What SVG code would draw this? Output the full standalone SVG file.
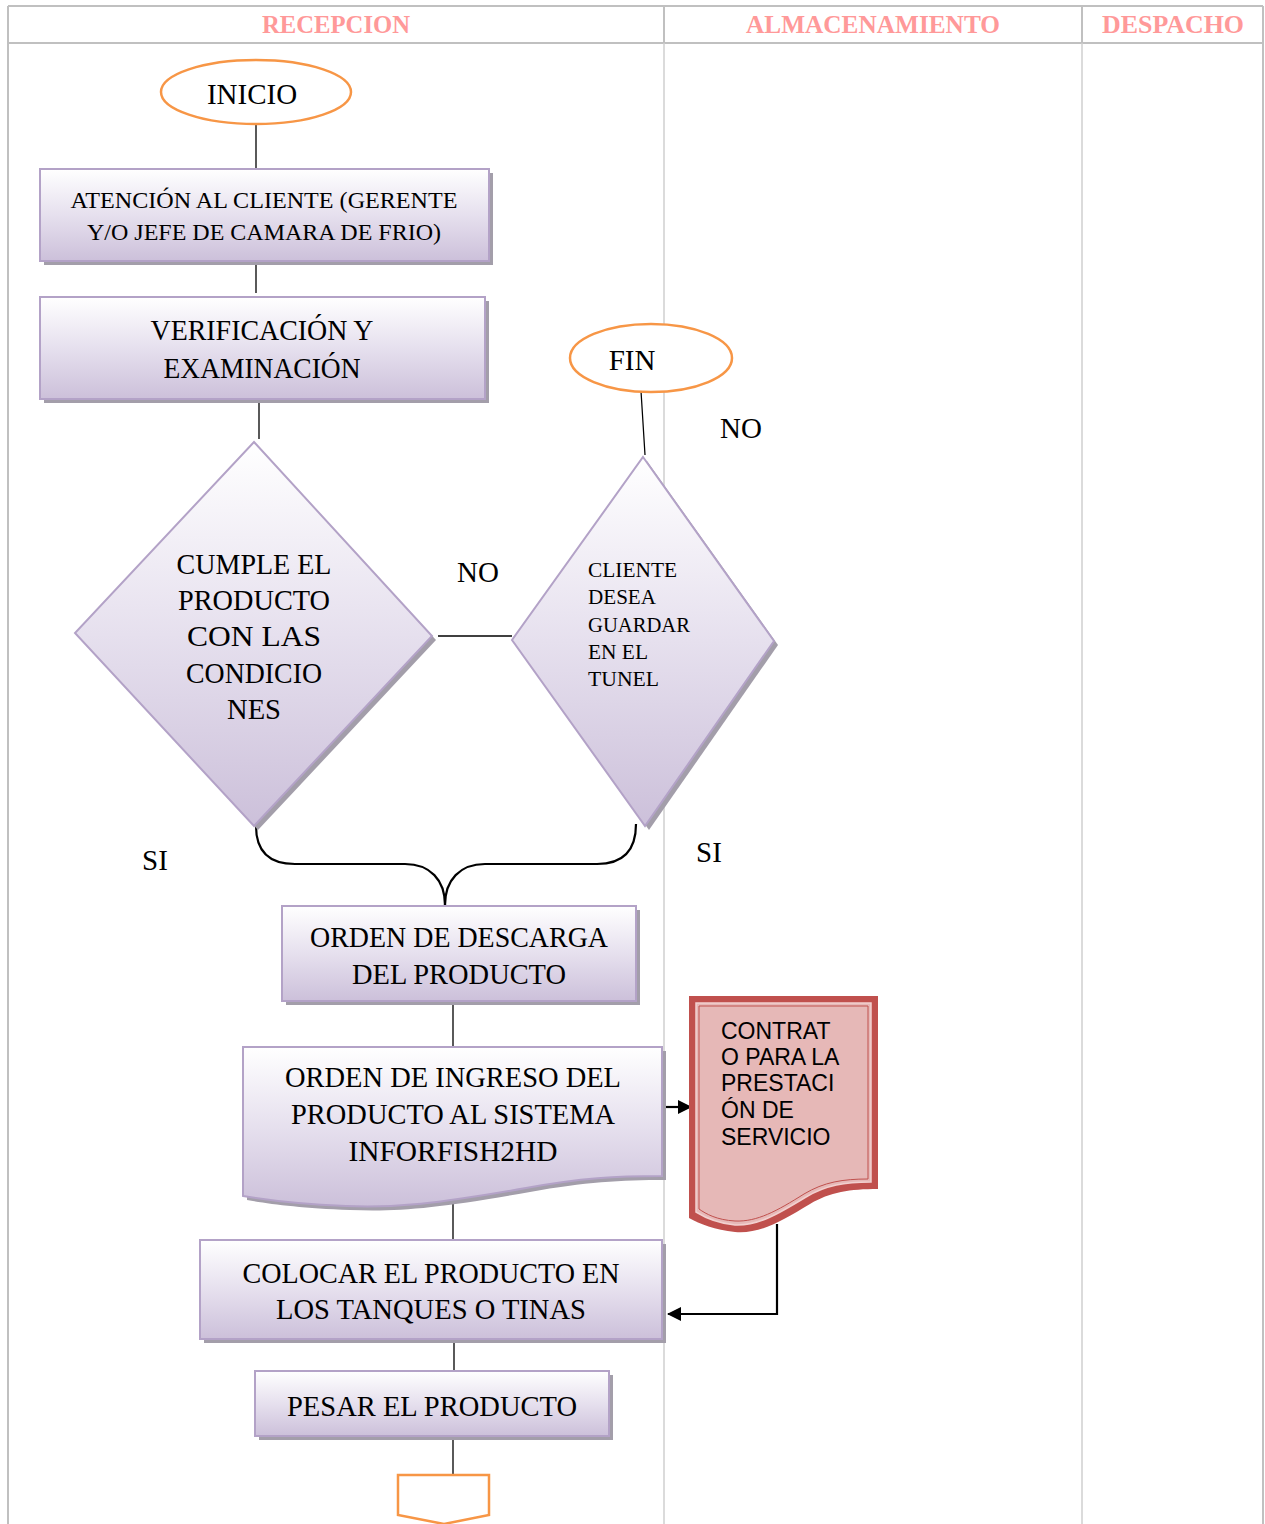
<svg xmlns="http://www.w3.org/2000/svg" width="1265" height="1524" viewBox="0 0 1265 1524">
  <defs>
    <linearGradient id="lav" x1="0" y1="0" x2="0" y2="1">
      <stop offset="0" stop-color="#ffffff"/>
      <stop offset="0.5" stop-color="#e6e0ee"/>
      <stop offset="1" stop-color="#ccc0da"/>
    </linearGradient>
    <marker id="arrow" markerWidth="14" markerHeight="14" refX="13" refY="7" orient="auto" markerUnits="userSpaceOnUse">
      <path d="M0,0 L14,7 L0,14 Z" fill="#000"/>
    </marker>
    <style>
      .grid { stroke: #c0c0c0; stroke-width: 2; fill: none; }
      .gridb { stroke: #cfcfcf; stroke-width: 1.5; fill: none; }
      .hdr { font-family: "Liberation Serif", serif; font-weight: bold; font-size: 25px; fill: #ff9999; text-anchor: middle; }
      .term { fill: #ffffff; stroke: #f79646; stroke-width: 2.5; }
      .proc { fill: url(#lav); stroke: #b3a2c7; stroke-width: 2; }
      .shadow { fill: #a39eaa; }
      .t { font-family: "Liberation Serif", serif; fill: #000; text-anchor: middle; }
      .lbl { font-family: "Liberation Serif", serif; font-size: 29px; fill: #000; }
      .sans { font-family: "Liberation Sans", Arial, sans-serif; font-size: 23px; fill: #000; }
      .conn { stroke: #000; stroke-width: 1.3; fill: none; }
      .conn2 { stroke: #000; stroke-width: 2.2; fill: none; }
    </style>
  </defs>

  <rect width="1265" height="1524" fill="#ffffff"/>

  <!-- swimlane table -->
  <g id="lanes">
    <line class="grid" x1="8" y1="6" x2="1263" y2="6"/>
    <line class="grid" x1="8" y1="43" x2="1263" y2="43"/>
    <line class="grid" x1="8" y1="6" x2="8" y2="1524"/>
    <line class="grid" x1="1263" y1="6" x2="1263" y2="1524"/>
    <line class="grid" x1="664" y1="6" x2="664" y2="43"/>
    <line class="grid" x1="1082" y1="6" x2="1082" y2="43"/>
    <line class="gridb" x1="664" y1="43" x2="664" y2="1524"/>
    <line class="gridb" x1="1082" y1="43" x2="1082" y2="1524"/>
    <text class="hdr" x="336" y="33" textLength="148" lengthAdjust="spacingAndGlyphs">RECEPCION</text>
    <text class="hdr" x="873" y="33" textLength="254" lengthAdjust="spacingAndGlyphs">ALMACENAMIENTO</text>
    <text class="hdr" x="1173" y="33" textLength="142" lengthAdjust="spacingAndGlyphs">DESPACHO</text>
  </g>

  <!-- connectors -->
  <g id="connectors">
    <line class="conn" x1="256" y1="124" x2="256" y2="168"/>
    <line class="conn" x1="256" y1="261" x2="256" y2="293"/>
    <line class="conn" x1="259" y1="399" x2="259" y2="439"/>
    <line class="conn" x1="438" y1="636" x2="512" y2="636"/>
    <line class="conn" x1="641" y1="391" x2="645" y2="455"/>
    <path class="conn2" d="M256,826 C256,850 268,864 295,864 L405,864 C430,864 445,880 445,905"/>
    <path class="conn2" d="M636,824 C636,850 624,864 597,864 L485,864 C460,864 445,880 445,905"/>
    <line class="conn" x1="453" y1="1001" x2="453" y2="1047"/>
    <line class="conn2" x1="660" y1="1107" x2="691" y2="1107" marker-end="url(#arrow)"/>
    <line class="conn" x1="453" y1="1198" x2="453" y2="1240"/>
    <path class="conn2" d="M777,1224 L777,1314 L668,1314" marker-end="url(#arrow)"/>
    <line class="conn" x1="454" y1="1339" x2="454" y2="1371"/>
    <line class="conn" x1="453" y1="1436" x2="453" y2="1475"/>
  </g>

  <g id="inicio">
    <ellipse class="term" cx="256" cy="92" rx="95" ry="32"/>
    <text class="t" x="252" y="104" font-size="29">INICIO</text>
  </g>

  <g id="atencion">
    <rect class="shadow" x="44" y="173" width="449" height="92"/>
    <rect class="proc" x="40" y="169" width="449" height="92"/>
    <text class="t" x="264" y="208" font-size="24" textLength="387" lengthAdjust="spacingAndGlyphs">ATENCIÓN AL CLIENTE (GERENTE</text>
    <text class="t" x="264" y="240" font-size="24" textLength="354" lengthAdjust="spacingAndGlyphs">Y/O JEFE DE CAMARA DE FRIO)</text>
  </g>

  <g id="verificacion">
    <rect class="shadow" x="44" y="301" width="445" height="102"/>
    <rect class="proc" x="40" y="297" width="445" height="102"/>
    <text class="t" x="262" y="340" font-size="29" textLength="223" lengthAdjust="spacingAndGlyphs">VERIFICACIÓN Y</text>
    <text class="t" x="262" y="378" font-size="29" textLength="197" lengthAdjust="spacingAndGlyphs">EXAMINACIÓN</text>
  </g>

  <g id="cumple">
    <polygon class="shadow" points="258,446 436,640 258,830 79,637"/>
    <polygon class="proc" points="254,442 432,636 254,826 75,633"/>
    <text class="t" x="254" y="574" font-size="29" textLength="155" lengthAdjust="spacingAndGlyphs">CUMPLE EL</text>
    <text class="t" x="254" y="610" font-size="29" textLength="152" lengthAdjust="spacingAndGlyphs">PRODUCTO</text>
    <text class="t" x="254" y="646" font-size="29" textLength="134" lengthAdjust="spacingAndGlyphs">CON LAS</text>
    <text class="t" x="254" y="683" font-size="29" textLength="136" lengthAdjust="spacingAndGlyphs">CONDICIO</text>
    <text class="t" x="254" y="719" font-size="29" textLength="54" lengthAdjust="spacingAndGlyphs">NES</text>
  </g>

  <text class="lbl" x="457" y="582">NO</text>

  <g id="fin">
    <ellipse class="term" cx="651" cy="358" rx="81" ry="34"/>
    <text class="t" x="632" y="370" font-size="29">FIN</text>
  </g>

  <text class="lbl" x="720" y="438">NO</text>

  <g id="cliente">
    <polygon class="shadow" points="647,461 778,645 649,830 516,644"/>
    <polygon class="proc" points="643,457 774,641 645,826 512,640"/>
    <g font-family="Liberation Serif, serif" font-size="22" fill="#000">
      <text x="588" y="577" textLength="89" lengthAdjust="spacingAndGlyphs">CLIENTE</text>
      <text x="588" y="604" textLength="68" lengthAdjust="spacingAndGlyphs">DESEA</text>
      <text x="588" y="632" textLength="102" lengthAdjust="spacingAndGlyphs">GUARDAR</text>
      <text x="588" y="659" textLength="60" lengthAdjust="spacingAndGlyphs">EN EL</text>
      <text x="588" y="686" textLength="71" lengthAdjust="spacingAndGlyphs">TUNEL</text>
    </g>
  </g>

  <text class="lbl" x="142" y="870">SI</text>
  <text class="lbl" x="696" y="862">SI</text>

  <g id="descarga">
    <rect class="shadow" x="286" y="910" width="354" height="95"/>
    <rect class="proc" x="282" y="906" width="354" height="95"/>
    <text class="t" x="459" y="947" font-size="29" textLength="298" lengthAdjust="spacingAndGlyphs">ORDEN DE DESCARGA</text>
    <text class="t" x="459" y="984" font-size="29" textLength="214" lengthAdjust="spacingAndGlyphs">DEL PRODUCTO</text>
  </g>

  <g id="ingreso">
    <path class="shadow" d="M247,1051 L666,1051 L666,1180 C620,1180 585,1182 530,1192 C440,1208 400,1212 350,1210 C300,1208 270,1204 247,1200 Z"/>
    <path class="proc" d="M243,1047 L662,1047 L662,1176 C616,1176 581,1178 526,1188 C436,1204 396,1208 346,1206 C296,1204 266,1200 243,1196 Z"/>
    <text class="t" x="453" y="1087" font-size="29" textLength="336" lengthAdjust="spacingAndGlyphs">ORDEN DE INGRESO DEL</text>
    <text class="t" x="453" y="1124" font-size="29" textLength="324" lengthAdjust="spacingAndGlyphs">PRODUCTO AL SISTEMA</text>
    <text class="t" x="453" y="1161" font-size="29" textLength="209" lengthAdjust="spacingAndGlyphs">INFORFISH2HD</text>
  </g>

  <g id="contrato">
    <path d="M689,996 L878,996 L878,1189 C850,1189 830,1192 810,1204 C780,1222 760,1234 735,1232 C715,1230 700,1224 689,1218 Z" fill="#c0504d"/>
    <path d="M696,1003 L871,1003 L871,1182 C845,1182 826,1185 806,1197 C778,1214 758,1226 735,1225 C716,1223 704,1217 696,1212 Z" fill="#e6b8b7" stroke="#f2d0cf" stroke-width="1.5"/>
    <path d="M699,1006 L868,1006 L868,1179 C843,1179 824,1182 804,1194 C777,1211 757,1222 735,1221 C717,1220 706,1214 699,1209 Z" fill="#e6b8b7" stroke="#c0504d" stroke-width="1"/>
    <text class="sans" x="721" y="1039">CONTRAT</text>
    <text class="sans" x="721" y="1065">O PARA LA</text>
    <text class="sans" x="721" y="1091">PRESTACI</text>
    <text class="sans" x="721" y="1118">ÓN DE</text>
    <text class="sans" x="721" y="1145">SERVICIO</text>
  </g>

  <g id="colocar">
    <rect class="shadow" x="204" y="1244" width="462" height="99"/>
    <rect class="proc" x="200" y="1240" width="462" height="99"/>
    <text class="t" x="431" y="1283" font-size="29" textLength="377" lengthAdjust="spacingAndGlyphs">COLOCAR EL PRODUCTO EN</text>
    <text class="t" x="431" y="1319" font-size="29" textLength="310" lengthAdjust="spacingAndGlyphs">LOS TANQUES O TINAS</text>
  </g>

  <g id="pesar">
    <rect class="shadow" x="259" y="1375" width="354" height="65"/>
    <rect class="proc" x="255" y="1371" width="354" height="65"/>
    <text class="t" x="432" y="1416" font-size="29" textLength="290" lengthAdjust="spacingAndGlyphs">PESAR EL PRODUCTO</text>
  </g>

  <g id="conector-pagina">
    <polygon class="term" points="398,1475 489,1475 489,1515 444,1524 398,1515"/>
  </g>
</svg>
